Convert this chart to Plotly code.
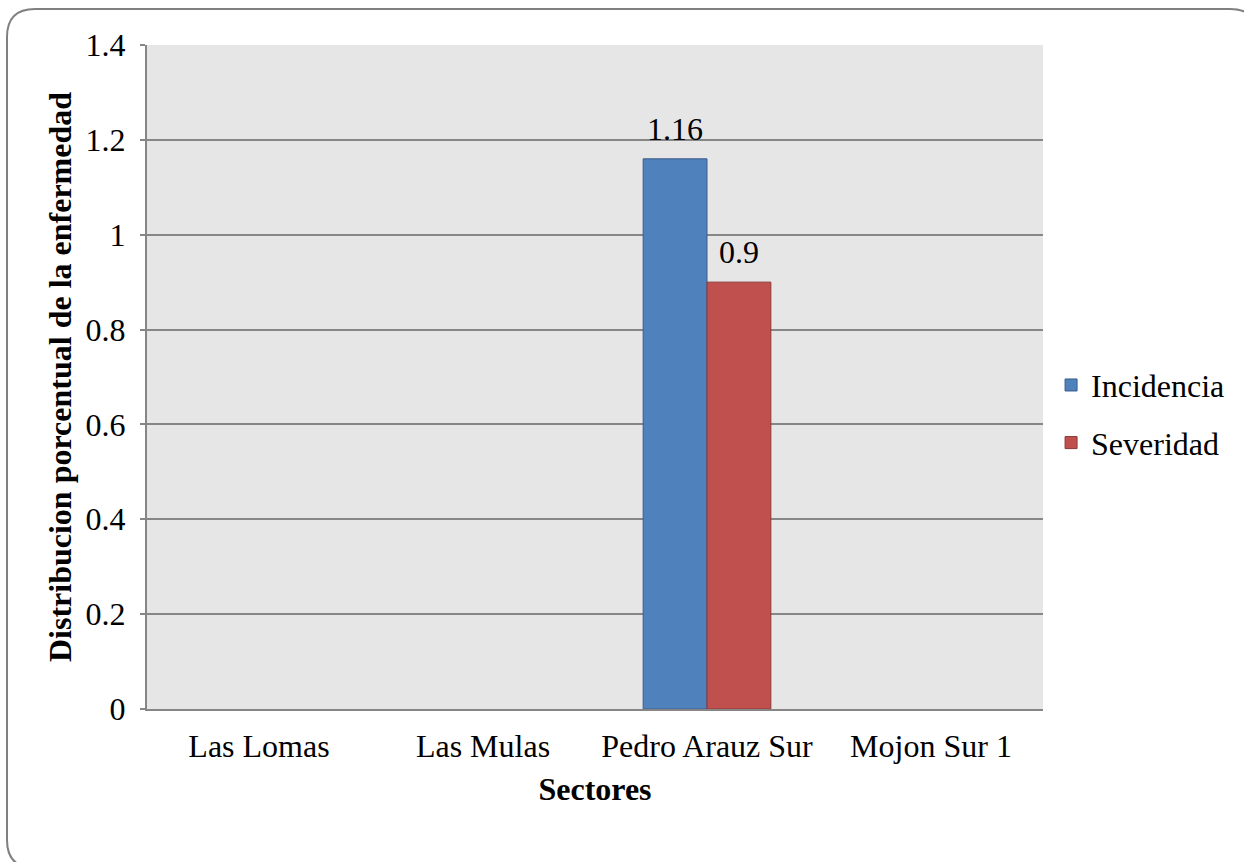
import plotly.graph_objects as go

categories = ["Las Lomas", "Las Mulas", "Pedro Arauz Sur", "Mojon Sur 1"]
incidencia = [None, None, 1.16, None]
severidad = [None, None, 0.9, None]
inc_labels = ["", "", "1.16", ""]
sev_labels = ["", "", "0.9", ""]
y_ticks = [0, 0.2, 0.4, 0.6, 0.8, 1, 1.2, 1.4]
y_ticktext = ["0", "0.2", "0.4", "0.6", "0.8", "1", "1.2", "1.4"]

W, H = 1244, 862
L, R, T, B = 147, 201, 45, 153
FONT = "Liberation Serif, Times New Roman, serif"
FS = 32

fig = go.Figure()
fig.add_trace(go.Bar(
    x=categories, y=incidencia, name="Incidencia", legendgroup="a",
    marker=dict(color="#4F81BD", line=dict(color="#385D8A", width=1)),
))
fig.add_trace(go.Bar(
    x=categories, y=severidad, name="Severidad", legendgroup="b",
    marker=dict(color="#C0504D", line=dict(color="#8C3836", width=1)),
))

# data labels above bars (half a bar group left / right of category centre)
for vals, labels, dx in ((incidencia, inc_labels, -32), (severidad, sev_labels, 32)):
    for c, v, t in zip(categories, vals, labels):
        if v is not None and t:
            fig.add_annotation(x=c, y=v, text=t, showarrow=False,
                               xshift=dx, yshift=10, yanchor="bottom",
                               font=dict(family=FONT, size=FS, color="black"))

def P(px, py):
    a = (px - L) / (W - L - R)
    b = 1 - (py - T) / (H - T - B)
    return f"{a:.5f},{b:.5f}"

# rounded border
x0, y0, x1, y1, r = 7, 9, 1258, 868, 28
path = (f"M {P(x0 + r, y0)} L {P(x1 - r, y0)} Q {P(x1, y0)} {P(x1, y0 + r)} "
        f"L {P(x1, y1 - r)} Q {P(x1, y1)} {P(x1 - r, y1)} "
        f"L {P(x0 + r, y1)} Q {P(x0, y1)} {P(x0, y1 - r)} "
        f"L {P(x0, y0 + r)} Q {P(x0, y0)} {P(x0 + r, y0)} Z")
fig.add_shape(type="path", path=path, xref="paper", yref="paper",
              line=dict(color="#808080", width=2), layer="below")

fig.update_layout(
    width=W, height=H,
    margin=dict(l=L, r=R, t=T, b=B),
    paper_bgcolor="white", plot_bgcolor="#E6E6E6",
    barmode="group", bargap=0.43, bargroupgap=0,
    font=dict(family=FONT, size=FS, color="black"),
    showlegend=True,
    legend=dict(x=1.009, y=0.444, xanchor="left", yanchor="middle",
                font=dict(family=FONT, size=FS, color="black"),
                tracegroupgap=13, itemwidth=30, bgcolor="rgba(0,0,0,0)"),
    xaxis=dict(
        showline=True, linecolor="#868686", linewidth=2,
        ticks="", showgrid=False,
        tickfont=dict(family=FONT, size=FS),
        ticklabelstandoff=8,
        title=dict(text="<b>Sectores</b>", font=dict(family=FONT, size=FS), standoff=14),
    ),
    yaxis=dict(
        range=[0, 1.4], tickvals=y_ticks, ticktext=y_ticktext,
        showline=True, linecolor="#868686", linewidth=2,
        ticks="outside", ticklen=5, tickcolor="#868686", tickwidth=2,
        ticklabelstandoff=8,
        showgrid=True, gridcolor="#868686", gridwidth=2,
        zeroline=False,
        tickfont=dict(family=FONT, size=FS),
        title=dict(text="<b>Distribucion porcentual de la enfermedad</b>",
                   font=dict(family=FONT, size=FS), standoff=4),
    ),
)

fig.write_html("out.html")
